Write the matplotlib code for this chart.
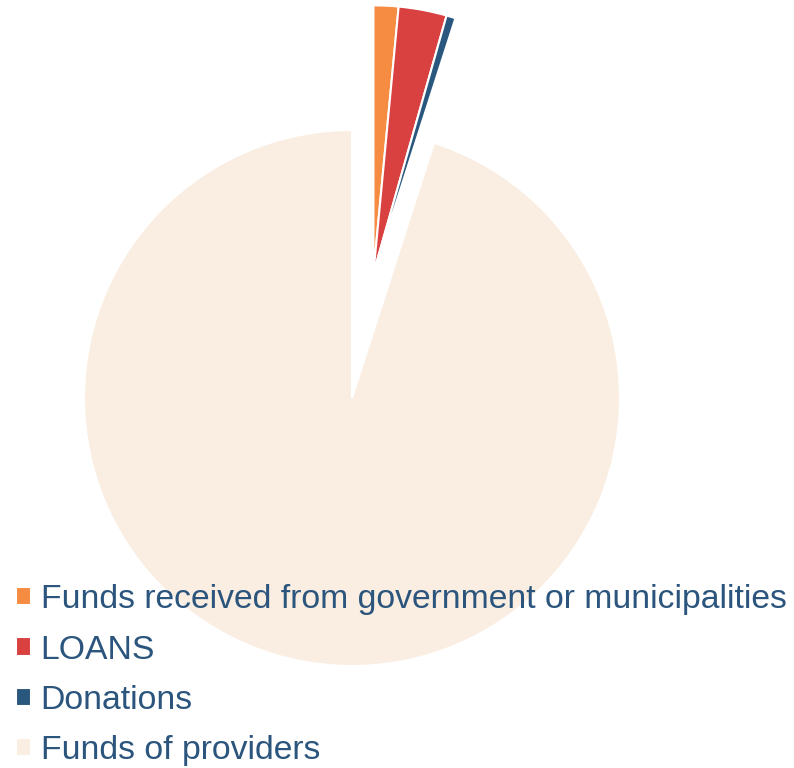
import matplotlib
matplotlib.use("Agg")
import matplotlib.pyplot as plt

plt.rcParams['font.family'] = ['Liberation Sans', 'DejaVu Sans']

# data (percent shares)
labels = ["Funds received from government or municipalities", "LOANS", "Donations", "Funds of providers"]
shares = [1.5, 2.9, 0.55, 95.05]
colors = ["#F58C42", "#D94040", "#2A577D", "#FAEEE2"]

text_color = "#2B557D"

fig = plt.figure(figsize=(7.94, 7.68), dpi=100)
ax = fig.add_axes([0, 0, 1, 1])

wedges, _ = ax.pie(shares, colors=colors, startangle=90, counterclock=False,
                   wedgeprops=dict(edgecolor="white", linewidth=1.5))

# the three small slices are pulled out together, as one group
group_shift = (0.08, 0.465)
for w in wedges[:3]:
    w.set_center(group_shift)

# 1 unit = 268 px, pie centre at (352, 398) from the top left corner
ax.set_xlim(-352 / 268, (794 - 352) / 268)
ax.set_ylim(-(768 - 398) / 268, 398 / 268)
ax.set_aspect("auto")
ax.axis("off")

leg = ax.legend(wedges, labels, loc="lower left", bbox_to_anchor=(16 / 794, 2 / 768),
                bbox_transform=fig.transFigure, frameon=False, fontsize=24.3,
                handlelength=0.45, handleheight=0.45, handletextpad=0.28,
                labelspacing=0.57, borderpad=0, borderaxespad=0)
for t in leg.get_texts():
    t.set_color(text_color)

fig.savefig("out.png", dpi=100)
